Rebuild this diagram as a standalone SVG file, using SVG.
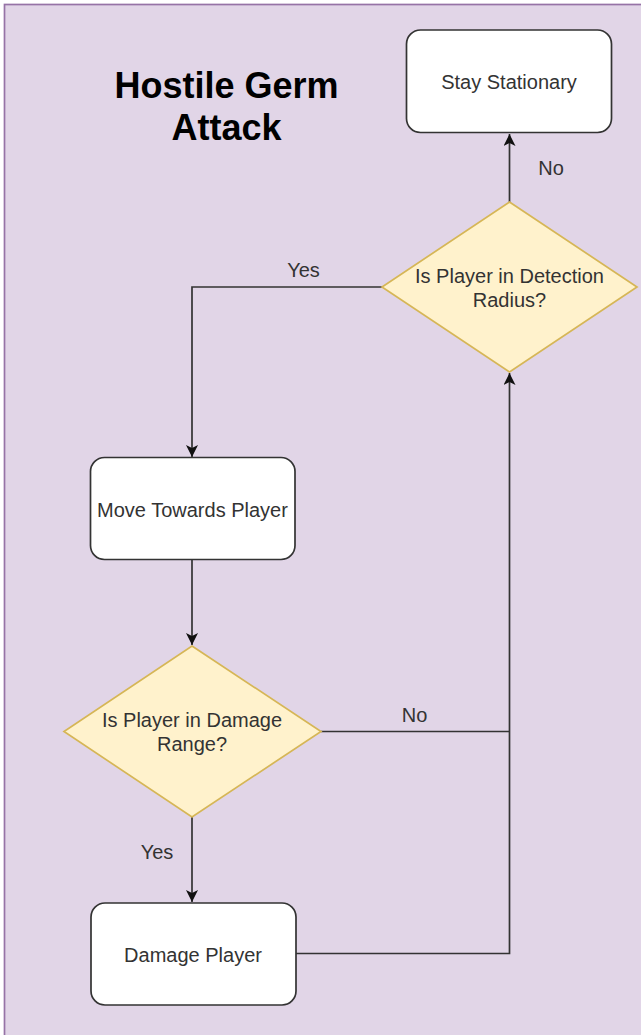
<svg xmlns="http://www.w3.org/2000/svg" width="641" height="1035" viewBox="0 0 641 1035">
<style>
.bg{fill:#e1d5e7;stroke:#9673a6;stroke-width:1.7}
.box{fill:#ffffff;stroke:#333333;stroke-width:1.7}
.dia{fill:#fff2cc;stroke:#d6b656;stroke-width:1.7}
.lbl{font-family:"Liberation Sans",Arial,sans-serif;font-size:20px;fill:#333333;text-anchor:middle}
.title{font-family:"Liberation Sans",Arial,sans-serif;font-size:36px;font-weight:bold;fill:#000000;text-anchor:middle}
.edge{fill:none;stroke:#333333;stroke-width:1.7}
</style>
<defs>
<marker id="arr" markerWidth="14" markerHeight="14" refX="12" refY="6" orient="auto" markerUnits="userSpaceOnUse">
<path d="M0,0 L12,6 L0,12 L3,6 Z" fill="#111111"/>
</marker>
</defs>
<rect class="bg" x="4.5" y="4.5" width="645" height="1040"/>
<text class="title" x="226.5" y="98">Hostile Germ</text>
<text class="title" x="226.5" y="140">Attack</text>
<g id="connectors">
<path class="edge" d="M509.5,202 L509.5,134" marker-end="url(#arr)"/>
<path class="edge" d="M382,287 L192,287 L192,457" marker-end="url(#arr)"/>
<path class="edge" d="M192,560 L192,645" marker-end="url(#arr)"/>
<path class="edge" d="M192,817 L192,902" marker-end="url(#arr)"/>
<path class="edge" d="M321,731.5 L509.5,731.5"/>
<path class="edge" d="M296,953.5 L509.5,953.5 L509.5,373" marker-end="url(#arr)"/>
<text class="lbl" x="551" y="175">No</text>
<text class="lbl" x="303.5" y="277">Yes</text>
<text class="lbl" x="414.5" y="722">No</text>
<text class="lbl" x="157" y="859">Yes</text>
</g>
<g id="stay">
<rect class="box" x="406.5" y="30" width="205" height="102.5" rx="14"/>
<text class="lbl" x="509" y="89">Stay Stationary</text>
</g>
<g id="detect">
<polygon class="dia" points="509.5,202 637,287 509.5,372 382,287"/>
<text class="lbl" x="509.5" y="283">Is Player in Detection</text>
<text class="lbl" x="509.5" y="307">Radius?</text>
</g>
<g id="move">
<rect class="box" x="90.5" y="457.5" width="204.5" height="102" rx="14"/>
<text class="lbl" x="192.5" y="517">Move Towards Player</text>
</g>
<g id="damagecheck">
<polygon class="dia" points="192,646 321,731.5 192,817 64,731.5"/>
<text class="lbl" x="192" y="727">Is Player in Damage</text>
<text class="lbl" x="192" y="751">Range?</text>
</g>
<g id="damage">
<rect class="box" x="91" y="903" width="205" height="102" rx="14"/>
<text class="lbl" x="193" y="962">Damage Player</text>
</g>
</svg>
